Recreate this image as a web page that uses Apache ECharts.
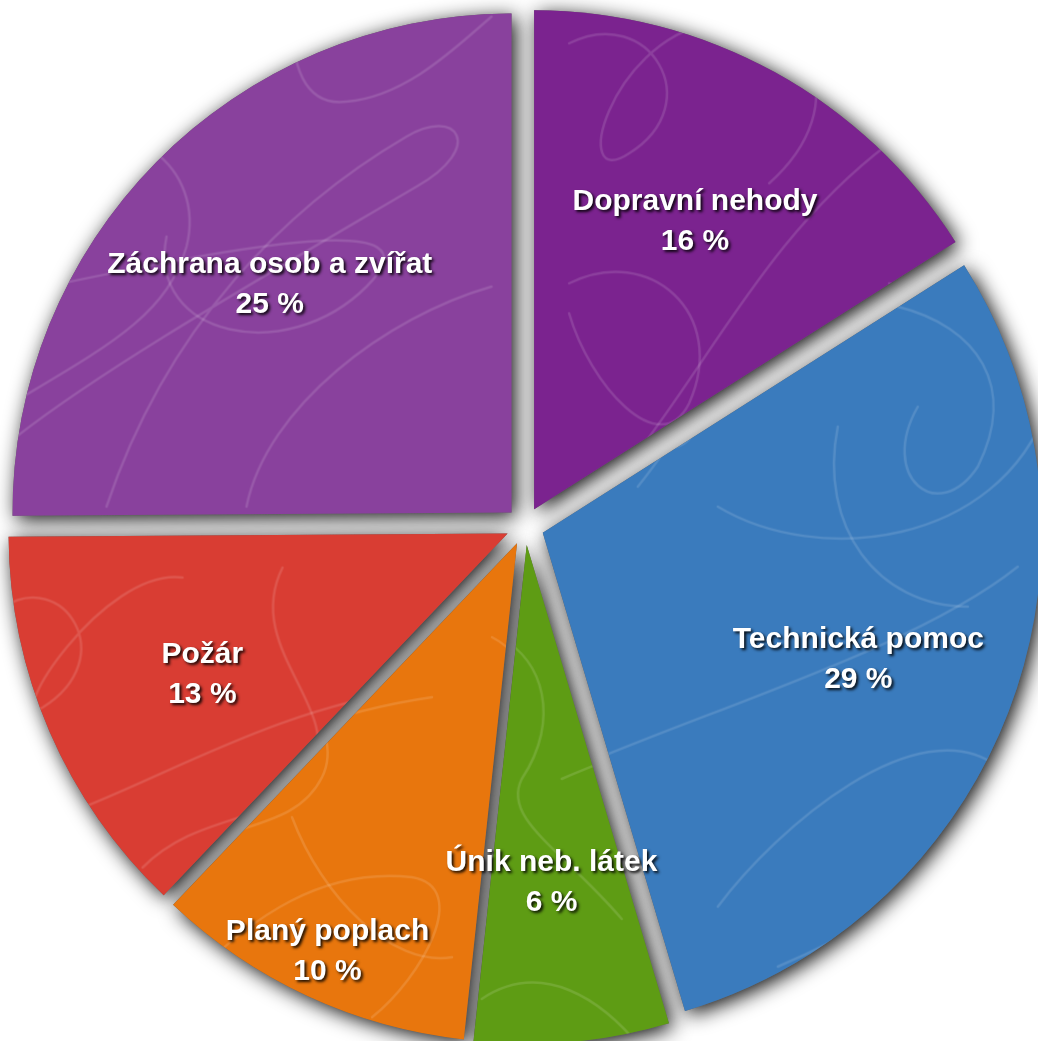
<!DOCTYPE html>
<html>
<head>
<meta charset="utf-8">
<script src="https://cdn.jsdelivr.net/npm/echarts@6/dist/echarts.min.js"></script>
<style>
html,body{margin:0;padding:0;background:#fff;}
#chart{width:1038px;height:1041px;}
</style>
</head>
<body>
<div id="chart"></div>
<script>
// ---- data ----
const categories = ['Dopravní nehody', 'Technická pomoc', 'Únik neb. látek', 'Planý poplach', 'Požár', 'Záchrana osob a zvířat'];
const shares = [16.0, 29.4, 6.3, 10.4, 12.8, 25.1];
// ---- styles ----
const sliceColors = ['#7b238f', '#3a7bbd', '#5e9c14', '#e8760d', '#d93d33', '#89419d'];
const labelRadialShift = [0, 0, 0, 113, 0, 0];
const labelNudge = [[-2, 9], [-1, 9], [-6, 1], [0, -1], [5, 7], [-2, 10]];

const CX = 525, CY = 526, R = 499, OFFSET = 19, LABEL_R0 = 171;

// scribble texture
function makeTexture() {
  const c = document.createElement('canvas');
  c.width = 1060; c.height = 1060;
  const g = c.getContext('2d');
  g.strokeStyle = 'rgba(255,255,255,0.13)';
  g.lineWidth = 2.5;
  g.lineCap = 'round';
  g.lineJoin = 'round';
  const paths = [
    [[310,20],[300,80,320,120,360,115],[420,110,470,60,505,30]],
    [[30,450],[120,380,260,300,430,200],[500,160,470,120,420,150],[300,220,180,340,120,520]],
    [[180,250],[160,350,300,380,380,300],[460,220,250,260,60,300]],
    [[260,520],[280,420,400,330,505,300]],
    [[60,160],[140,120,220,180,200,260],[180,330,120,360,20,420]],
    [[560,60],[640,20,700,120,620,170],[560,210,600,60,700,40],[800,20,850,120,760,200]],
    [[620,480],[700,380,760,250,880,160]],
    [[560,300],[640,260,720,330,680,420],[650,480,580,400,560,330]],
    [[700,500],[800,560,980,540,1030,400]],
    [[560,760],[700,700,900,640,1000,560]],
    [[700,900],[760,820,900,700,980,760],[1040,800,900,900,760,960]],
    [[820,420],[800,520,860,600,950,600]],
    [[880,300],[960,320,1000,380,960,460],[920,520,860,470,900,400]],
    [[20,600],[80,560,140,650,60,700],[20,720,120,560,200,570]],
    [[100,800],[200,760,300,700,440,680]],
    [[300,560],[260,640,360,700,330,760],[300,820,220,800,160,860]],
    [[200,960],[260,900,330,850,420,860],[480,870,430,960,380,1000]],
    [[300,800],[330,880,400,950,460,940]],
    [[500,620],[540,640,560,700,520,760],[500,800,560,830,620,900]],
    [[480,980],[540,940,600,980,640,1030]]
  ];
  paths.forEach(p => {
    g.beginPath();
    g.moveTo(p[0][0], p[0][1]);
    for (let i = 1; i < p.length; i++) g.bezierCurveTo(...p[i]);
    g.stroke();
  });
  return c;
}
const texture = makeTexture();

const pieData = (extra) => categories.map((name, i) => Object.assign({
  name: name, value: shares[i], selected: true
}, extra ? extra(i) : {}));

const common = {
  type: 'pie',
  center: [CX, CY],
  startAngle: 90,
  clockwise: true,
  selectedMode: 'multiple',
  selectedOffset: OFFSET,
  avoidLabelOverlap: false,
  animation: false,
  emphasis: { disabled: true },
  labelLine: { show: false }
};

const shadowStyle = { color: '#666', shadowBlur: 20, shadowColor: 'rgba(0,0,0,0.95)', shadowOffsetX: 4, shadowOffsetY: 4 };

const chart = echarts.init(document.getElementById('chart'), null, { renderer: 'canvas' });
chart.setOption({
  backgroundColor: '#ffffff',
  animation: false,
  series: [
    Object.assign({}, common, {
      name: 'shadow', silent: true, radius: [0, R],
      label: { show: false },
      itemStyle: shadowStyle,
      select: { itemStyle: shadowStyle },
      data: pieData()
    }),
    Object.assign({}, common, {
      name: 'fill', silent: true, radius: [0, R],
      label: { show: false },
      data: pieData(i => ({ itemStyle: { color: sliceColors[i] }, select: { itemStyle: { color: sliceColors[i] } } }))
    }),
    Object.assign({}, common, {
      name: 'texture', silent: true, radius: [0, R],
      label: { show: false },
      itemStyle: { color: { image: texture, repeat: 'no-repeat' } },
      select: { itemStyle: { color: { image: texture, repeat: 'no-repeat' } } },
      data: pieData()
    }),
    Object.assign({}, common, {
      name: 'labels', silent: true, radius: [LABEL_R0, R],
      itemStyle: { color: 'rgba(0,0,0,0)' },
      select: { itemStyle: { color: 'rgba(0,0,0,0)' } },
      label: {
        show: true,
        position: 'inside',
        formatter: p => p.name + '\n' + Math.round(p.percent) + ' %',
        color: '#ffffff',
        fontFamily: 'Liberation Sans, Arial, Helvetica, sans-serif',
        fontWeight: 'bold',
        fontSize: 30,
        lineHeight: 40,
        align: 'center',
        textShadowColor: 'rgba(0,0,0,0.9)',
        textShadowBlur: 3,
        textShadowOffsetX: 2,
        textShadowOffsetY: 2
      },
      labelLayout: function (params) {
        const i = params.dataIndex;
        const s = labelRadialShift[i] || 0;
        const r = params.labelRect;
        const mx = r.x + r.width / 2 - CX, my = r.y + r.height / 2 - CY;
        const len = Math.sqrt(mx * mx + my * my) || 1;
        const n = labelNudge[i] || [0, 0];
        return { dx: mx / len * s + n[0], dy: my / len * s + n[1] };
      },
      data: pieData()
    })
  ]
});
</script>
</body>
</html>
